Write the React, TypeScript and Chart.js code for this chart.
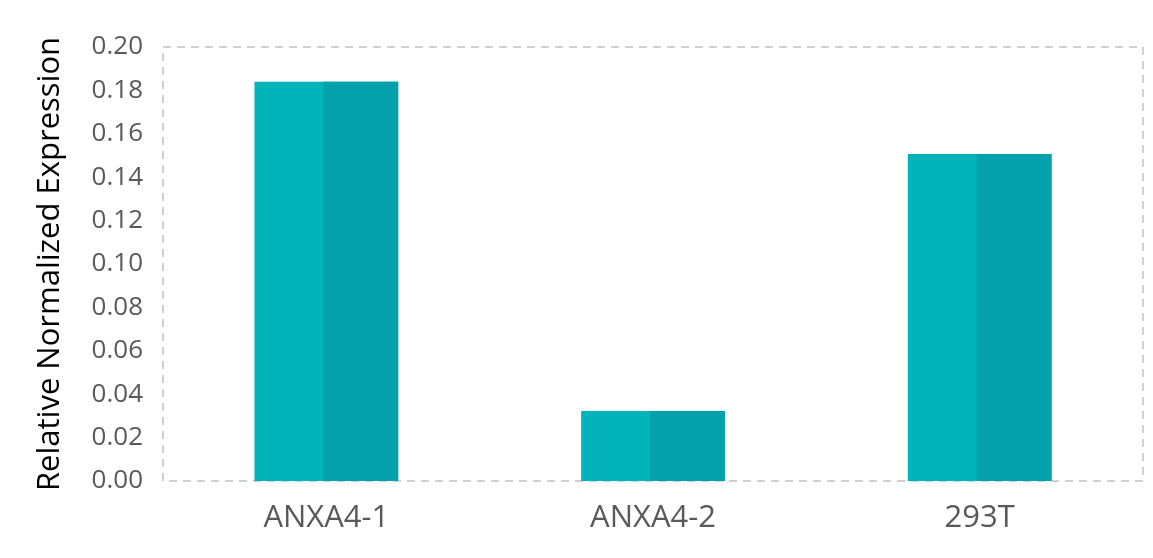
import React, { useEffect, useRef } from "react";
import { Chart, registerables } from "chart.js";

Chart.register(...registerables);

const categories = ["ANXA4-1", "ANXA4-2", "293T"];
const expression = [0.184, 0.0323, 0.1507];
const yTicks = [0, 0.02, 0.04, 0.06, 0.08, 0.1, 0.12, 0.14, 0.16, 0.18, 0.2];
const lightTeal = "#02b3b9";
const darkTeal = "#03a1ab";
const barFraction = 0.44;

const dashedFrame = {
  id: "dashedFrame",
  beforeDatasetsDraw(chart: any) {
    const { ctx, chartArea } = chart;
    ctx.save();
    ctx.strokeStyle = "#d0d0d0";
    ctx.lineWidth = 2;
    ctx.setLineDash([8, 6]);
    ctx.strokeRect(chartArea.left, chartArea.top, chartArea.right - chartArea.left, chartArea.bottom - chartArea.top);
    ctx.restore();
  },
};

// Shade the right part of each bar a darker teal (two-tone face as in the reference)
const twoTone = {
  id: "twoTone",
  afterDatasetsDraw(chart: any) {
    const { ctx } = chart;
    const meta = chart.getDatasetMeta(0);
    ctx.save();
    ctx.fillStyle = darkTeal;
    meta.data.forEach((bar: any) => {
      const { x, y, base, width } = bar.getProps(["x", "y", "base", "width"], true);
      const left = x - width / 2;
      const split = left + width * 0.48;
      ctx.fillRect(split, Math.min(y, base), left + width - split, Math.abs(base - y));
    });
    ctx.restore();
  },
};

export default function App() {
  const ref = useRef<HTMLCanvasElement>(null);
  useEffect(() => {
    if (!ref.current) return;
    const chart = new Chart(ref.current, {
      type: "bar",
      data: {
        labels: categories,
        datasets: [
          { data: expression, backgroundColor: lightTeal, categoryPercentage: barFraction, barPercentage: 1 },
        ],
      },
      options: {
        animation: false,
        responsive: false,
        layout: { padding: { left: 0, right: 10, top: 47, bottom: 0 } },
        plugins: { legend: { display: false }, tooltip: { enabled: false } },
        scales: {
          x: {
            grid: { display: false, drawTicks: false },
            border: { display: false },
            ticks: { color: "#595959", font: { family: "Open Sans", size: 31 }, padding: 19 },
            afterFit(scale: any) { scale.height = 77; },
          },
          y: {
            min: 0,
            max: 0.2,
            afterBuildTicks(scale: any) { scale.ticks = yTicks.map((v) => ({ value: v })); },
            grid: { display: false, drawTicks: false },
            border: { display: false },
            ticks: {
              color: "#595959",
              font: { family: "Open Sans", size: 26 },
              padding: 20,
              callback: (v: any) => Number(v).toFixed(2),
            },
            title: {
              display: true,
              text: "Relative Normalized Expression",
              color: "#000000",
              font: { family: "Open Sans", size: 31 },
              padding: { top: 32, bottom: 0 },
            },
            afterFit(scale: any) { scale.width = 163; },
          },
        },
      },
      plugins: [dashedFrame, twoTone],
    });
    return () => chart.destroy();
  }, []);
  return (
    <div style={{ position: "absolute", left: 0, top: 0, width: 1153, height: 558, background: "#fff" }}>
      <canvas ref={ref} width={1153} height={558} />
    </div>
  );
}
